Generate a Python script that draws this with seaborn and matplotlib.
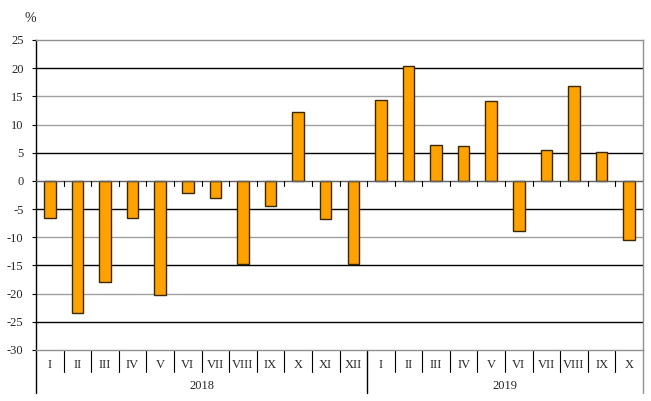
import matplotlib
matplotlib.use("Agg")
import matplotlib.pyplot as plt
import matplotlib.transforms as mtransforms
import seaborn as sns
import pandas as pd
import numpy as np

months_2018 = ["I", "II", "III", "IV", "V", "VI", "VII", "VIII", "IX", "X", "XI", "XII"]
months_2019 = ["I", "II", "III", "IV", "V", "VI", "VII", "VIII", "IX", "X"]
values_2018 = [-6.5, -23.5, -18.0, -6.5, -20.3, -2.2, -3.0, -14.8, -4.5, 12.2, -6.7, -14.7]
values_2019 = [14.4, 20.3, 6.4, 6.2, 14.2, -8.9, 5.4, 16.8, 5.2, -10.4]
years = ["2018", "2019"]
y_ticks = [25, 20, 15, 10, 5, 0, -5, -10, -15, -20, -25, -30]

sns.set_theme(style="white")
plt.rcParams['font.family'] = ['Liberation Serif', 'DejaVu Serif']

labels = months_2018 + months_2019
vals = values_2018 + values_2019
df = pd.DataFrame({"key": [f"{i}" for i in range(len(labels))], "value": vals})

fig = plt.figure(figsize=(6.51, 4.01), dpi=100)
ax = fig.add_axes([36/651, 51/401, 607/651, 310/401])

sns.barplot(data=df, x="key", y="value", ax=ax, color="#FFA200", width=0.42,
            edgecolor="#3a2800", linewidth=1.0, saturation=1, zorder=3)

ax.set_ylim(-30, 25)
ax.set_xlim(-0.5, len(labels) - 0.5)
ax.set_yticks(y_ticks)
ax.set_yticklabels([str(t) for t in y_ticks], fontsize=9)
ax.tick_params(axis="y", length=3, width=0.8, color="black", pad=6, left=True)
ax.set_xticks([])
ax.set_xlabel("")
ax.set_ylabel("")

black_lines = {20, 5, -5, -15, -25}
for t in y_ticks:
    if t in (25, -30, 0):
        continue
    c = "black" if t in black_lines else "#a0a0a0"
    ax.axhline(t, color=c, linewidth=1.0, zorder=1)
ax.axhline(0, color="#606060", linewidth=1.0, zorder=4)

for side in ["top", "right", "bottom"]:
    ax.spines[side].set_color("#909090")
    ax.spines[side].set_linewidth(1.0)
ax.spines["left"].set_color("black")
ax.spines["left"].set_linewidth(1.0)

trans = mtransforms.blended_transform_factory(ax.transData, ax.transAxes)
n = len(labels)
px = 1.0 / 310.0
# small ticks on the zero line
for i in range(1, n):
    ax.plot([i - 0.5, i - 0.5], [0, -0.9], color="black", linewidth=0.8, zorder=4)

# category separators under axis
for i in range(1, n):
    if i == len(months_2018):
        continue
    ax.plot([i - 0.5, i - 0.5], [0, -22 * px], transform=trans, color="black",
            linewidth=0.8, clip_on=False)
# year separators and outer lines
for xpos, col in [(-0.5, "black"), (len(months_2018) - 0.5, "black"), (n - 0.5, "#909090")]:
    ax.plot([xpos, xpos], [0, -43 * px], transform=trans, color=col,
            linewidth=1.0, clip_on=False)

for i, lab in enumerate(labels):
    ax.text(i, -15 * px, lab, transform=trans, ha="center", va="center", fontsize=9)

ax.text((len(months_2018) - 1) / 2, -36 * px, years[0], transform=trans,
        ha="center", va="center", fontsize=9)
ax.text(len(months_2018) + (len(months_2019) - 1) / 2, -36 * px, years[1],
        transform=trans, ha="center", va="center", fontsize=9)

fig.text(30/651, 1 - 19/401, "%", ha="center", va="center", fontsize=10)

fig.savefig("out.png", dpi=100, facecolor="white")
